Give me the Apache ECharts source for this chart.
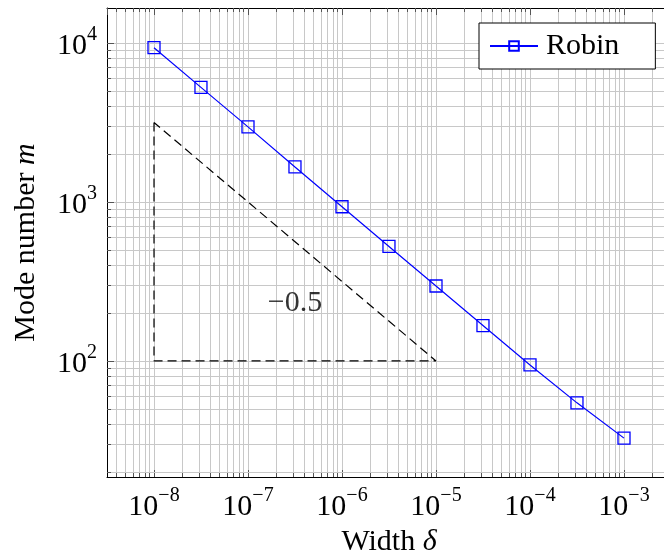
<!DOCTYPE html>
<html>
<head>
<meta charset="utf-8">
<script src="https://cdn.jsdelivr.net/npm/echarts@6/dist/echarts.min.js"></script>
<style>
html,body{margin:0;padding:0;background:#fff;}
#c{width:664px;height:559px;}
</style>
</head>
<body>
<div id="c"></div>
<script>
// ---- data ----
const deltas = [1e-8, 3.16e-8, 1e-7, 3.16e-7, 1e-6, 3.16e-6, 1e-5, 3.16e-5, 1e-4, 3.16e-4, 1e-3];
const modes  = [9340, 5260, 2965, 1660, 933, 525, 296, 167, 94.4, 54.5, 32.7];
const slopeX = [1e-8, 1e-8, 1e-5, 1e-8];
const slopeY = [3162, 100, 100, 3162];
const slopeLabel = '−0.5';
const slopeLabelPos = [3.16e-7, 232];
const xTickExps = [-8, -7, -6, -5, -4, -3];
const yTickExps = [2, 3, 4];
const seriesName = 'Robin';
const xTitle = 'Width ';
const xTitleSym = 'δ';
const yTitle = 'Mode number ';
const yTitleSym = 'm';

// ---- axis ranges (log10) ----
const xLo = -8.5, xHi = -2.5, yLo = 1.27, yHi = 4.22;
const xMin = Math.pow(10, xLo), xMax = Math.pow(10, xHi);
const yMin = Math.pow(10, yLo), yMax = Math.pow(10, yHi);

const FF = 'Liberation Serif';
const gridColor = '#c8c8c8';
const tickColor = '#555';

function near(v, arr){
  const e = Math.log10(v);
  const r = Math.round(e);
  return (Math.abs(e - r) < 1e-6 && arr.indexOf(r) >= 0) ? r : null;
}
function fmtX(v){ const r = near(v, xTickExps); return r === null ? '' : '{b|10}{s|' + (r < 0 ? '−' : '') + Math.abs(r) + '}'; }
function fmtY(v){ const r = near(v, yTickExps); return r === null ? '' : '{b|10}{s|' + (r < 0 ? '−' : '') + Math.abs(r) + '}'; }
const rich = {
  b: {fontSize: 30, fontFamily: FF, color: '#000', lineHeight: 36, verticalAlign: 'bottom'},
  s: {fontSize: 20, fontFamily: FF, color: '#000', lineHeight: 20, verticalAlign: 'top'}
};

// minor grid lines & ticks (log multiples 2..9)
const minorLines = [];
const minorTicks = [];
const xTickLen = Math.pow(10, 4 / 159); // approx 4px on y
const yTickLen = Math.pow(10, 4 / 94);  // approx 4px on x
for (let d = -10; d <= -2; d++) {
  for (let m = 2; m <= 9; m++) {
    const v = m * Math.pow(10, d);
    if (v > xMin && v < xMax) {
      minorLines.push([{coord: [v, yMin]}, {coord: [v, yMax]}]);
      minorTicks.push([{coord: [v, yMin]}, {coord: [v, yMin * xTickLen]}]);
      minorTicks.push([{coord: [v, yMax]}, {coord: [v, yMax / xTickLen]}]);
    }
  }
}
for (let d = 0; d <= 5; d++) {
  for (let m = 2; m <= 9; m++) {
    const v = m * Math.pow(10, d);
    if (v > yMin && v < yMax) {
      minorLines.push([{coord: [xMin, v]}, {coord: [xMax, v]}]);
      minorTicks.push([{coord: [xMin, v]}, {coord: [xMin * yTickLen, v]}]);
    }
  }
}

const chart = echarts.init(document.getElementById('c'), null, {renderer: 'canvas'});
const baseAxis = {type: 'log', logBase: 10};
const nameRich = {
  n: {fontFamily: FF, fontSize: 30, color: '#000'},
  i: {fontFamily: FF, fontSize: 30, color: '#000', fontStyle: 'italic'}
};
chart.setOption({
  animation: false,
  backgroundColor: '#fff',
  grid: {left: 107, top: 8, width: 564, height: 469, containLabel: false, outerBoundsMode: 'none'},
  legend: {
    data: [seriesName],
    left: 479, top: 23,
    padding: [8, 36, 8, 10],
    borderColor: '#000', borderWidth: 1, backgroundColor: '#fff',
    itemWidth: 48, itemHeight: 12,
    textStyle: {fontFamily: FF, fontSize: 30, color: '#000', padding: [0, 0, 0, 3]}
  },
  xAxis: [
    Object.assign({}, baseAxis, {
      position: 'bottom', min: xMin, max: xMax, splitNumber: 6,
      axisLine: {show: true, lineStyle: {color: '#000', width: 1}},
      axisTick: {show: true, inside: true, length: 7, lineStyle: {color: tickColor}},
      splitLine: {show: true, lineStyle: {color: gridColor, width: 1}},
      axisLabel: {formatter: fmtX, rich: rich, margin: 9, showMinLabel: false, showMaxLabel: false},
      name: '{n|' + xTitle + '}{i|' + xTitleSym + '}',
      nameLocation: 'middle', nameGap: 49,
      nameTextStyle: {rich: nameRich}
    }),
    Object.assign({}, baseAxis, {
      position: 'top', min: xMin, max: xMax, splitNumber: 6,
      axisLine: {show: true, lineStyle: {color: '#000', width: 1}},
      axisTick: {show: true, inside: true, length: 7, lineStyle: {color: tickColor}},
      splitLine: {show: false},
      axisLabel: {show: false}
    })
  ],
  yAxis: [
    Object.assign({}, baseAxis, {
      position: 'left', min: yMin, max: yMax, splitNumber: 3,
      axisLine: {show: true, lineStyle: {color: '#000', width: 1}},
      axisTick: {show: true, inside: true, length: 7, lineStyle: {color: tickColor}},
      splitLine: {show: true, lineStyle: {color: gridColor, width: 1}},
      axisLabel: {formatter: fmtY, rich: rich, margin: 10, showMinLabel: false, showMaxLabel: false},
      name: '{n|' + yTitle + '}{i|' + yTitleSym + '}',
      nameLocation: 'middle', nameGap: 66, nameRotate: 90,
      nameTextStyle: {rich: nameRich}
    }),
    Object.assign({}, baseAxis, {
      position: 'right', min: yMin, max: yMax, splitNumber: 3,
      axisLine: {show: true, lineStyle: {color: '#000', width: 1}},
      axisTick: {show: true, inside: true, length: 7, lineStyle: {color: tickColor}},
      splitLine: {show: false},
      axisLabel: {show: false}
    })
  ],
  series: [
    {
      name: 'slope',
      type: 'line',
      data: slopeX.map((x, i) => [x, slopeY[i]]),
      symbol: 'none',
      lineStyle: {color: '#000', width: 1.2, type: [9, 5]},
      z: 3,
      silent: true,
      markLine: {
        silent: true,
        symbol: ['none', 'none'],
        label: {show: false},
        animation: false,
        lineStyle: {color: gridColor, width: 1, type: 'solid'},
        z: 1,
        data: minorLines.concat(minorTicks.map(t => [
          Object.assign({}, t[0], {lineStyle: {color: tickColor, width: 1, type: 'solid'}}),
          t[1]
        ]))
      }
    },
    {
      name: 'slopeText',
      type: 'scatter',
      data: [slopeLabelPos],
      symbolSize: 1,
      itemStyle: {color: 'rgba(0,0,0,0)'},
      silent: true,
      label: {show: true, position: 'inside', formatter: slopeLabel, fontFamily: FF, fontSize: 30, color: '#000'}
    },
    {
      name: seriesName,
      type: 'line',
      data: deltas.map((d, i) => [d, modes[i]]),
      symbol: 'rect',
      symbolSize: 12,
      z: 5,
      color: '#0000ff',
      lineStyle: {color: '#0000ff', width: 1.2},
      itemStyle: {color: 'rgba(255,255,255,0)', borderColor: '#0000ff', borderWidth: 1.3}
    }
  ]
});
</script>
</body>
</html>
